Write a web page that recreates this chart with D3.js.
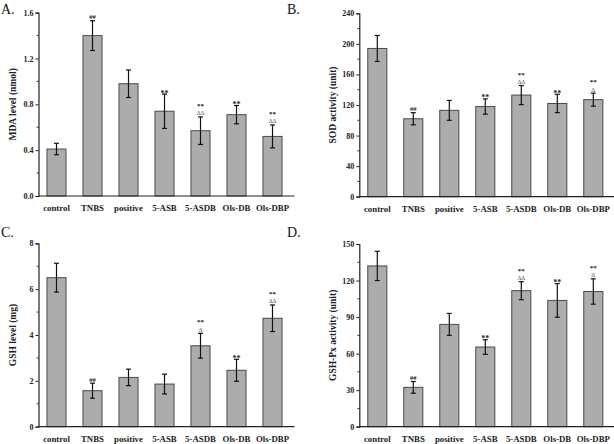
<!DOCTYPE html>
<html><head><meta charset="utf-8">
<script src="https://cdn.jsdelivr.net/npm/d3@7"></script>
<style>
body{margin:0;background:#fff;}
svg{display:block;}
text{font-family:"Liberation Serif","Times New Roman",serif;}
</style></head>
<body><svg id="c" width="614" height="444"></svg>
<script>
const categories = ["control","TNBS","positive","5-ASB","5-ASDB","Ols-DB","Ols-DBP"];
const mdaMean = [0.41,1.40,0.98,0.74,0.57,0.71,0.52];
const mdaErr  = [0.05,0.13,0.12,0.15,0.12,0.08,0.10];
const sodMean = [194,102,113,118,133,122,127];
const sodErr  = [17,8,13,10,12.5,12,8.5];
const gshMean = [6.50,1.57,2.15,1.86,3.53,2.46,4.73];
const gshErr  = [0.63,0.33,0.36,0.43,0.54,0.48,0.58];
const gpxMean = [132,32.3,84,65.4,111.7,103.7,111];
const gpxErr  = [12,4.8,9,6,7.4,13.8,10.4];
const mdaSig = ["","##","","**","**","**","**"];
const mdaDelta = ["","","","","ΔΔ","","ΔΔ"];
const sodSig = ["","##","","**","**","**","**"];
const sodDelta = ["","","","","ΔΔ","","Δ"];
const gshSig = ["","##","","","**","**","**"];
const gshDelta = ["","","","","Δ","","ΔΔ"];
const gpxSig = ["","##","","**","**","**","**"];
const gpxDelta = ["","","","","ΔΔ","","Δ"];
const mdaTicks = [0,0.4,0.8,1.2,1.6];
const sodTicks = [0,40,80,120,160,200,240];
const gshTicks = [0,2,4,6,8];
const gpxTicks = [0,30,60,90,120,150];

const svg = d3.select("#c");

const panels = [
  {letter:"A.", lx:1, ly:14, x0:38.5, y0:196, y1:12.7, max:1.6, ticks:mdaTicks, fmt:d3.format(".1f"), minor:0.2,
   title:"MDA level (nmol)", mean:mdaMean, err:mdaErr, sig:mdaSig, delta:mdaDelta},
  {letter:"B.", lx:287, ly:14, x0:359.3, y0:196.7, y1:13.3, max:240, ticks:sodTicks, fmt:d3.format("d"), minor:20,
   title:"SOD activity (unit)", mean:sodMean, err:sodErr, sig:sodSig, delta:sodDelta},
  {letter:"C.", lx:1, ly:237, x0:38.5, y0:426.7, y1:243.3, max:8, ticks:gshTicks, fmt:d3.format("d"), minor:1,
   title:"GSH level (mg)", mean:gshMean, err:gshErr, sig:gshSig, delta:gshDelta},
  {letter:"D.", lx:287, ly:237, x0:359.3, y0:426.7, y1:244, max:150, ticks:gpxTicks, fmt:d3.format("d"), minor:15,
   title:"GSH-Px activity (unit)", mean:gpxMean, err:gpxErr, sig:gpxSig, delta:gpxDelta}
];

panels.forEach(p => {
  const g = svg.append("g");
  const x = d3.scaleBand().domain(categories).range([p.x0, p.x0 + 252]).paddingInner(0.47).paddingOuter(0.235);
  const y = d3.scaleLinear().domain([0, p.max]).range([p.y0, p.y1]);

  g.append("text").attr("x", p.lx).attr("y", p.ly).attr("font-size", 14).attr("fill", "#111").text(p.letter);

  g.selectAll("rect.bar").data(categories).join("rect")
    .attr("x", d => x(d)).attr("width", x.bandwidth())
    .attr("y", (d,i) => y(p.mean[i])).attr("height", (d,i) => y(0) - y(p.mean[i]))
    .attr("fill", "#acacac").attr("stroke", "#4a4a4a").attr("stroke-width", 1);

  const eb = g.selectAll("g.eb").data(categories).join("g");
  const cxf = d => x(d) + x.bandwidth()/2;
  eb.append("line")
    .attr("x1", cxf).attr("x2", cxf)
    .attr("y1", (d,i) => y(p.mean[i] + p.err[i])).attr("y2", (d,i) => y(p.mean[i] - p.err[i]))
    .attr("stroke", "#111").attr("stroke-width", 1.2);
  eb.append("line")
    .attr("x1", d => cxf(d) - 2.5).attr("x2", d => cxf(d) + 2.5)
    .attr("y1", (d,i) => y(p.mean[i] + p.err[i])).attr("y2", (d,i) => y(p.mean[i] + p.err[i]))
    .attr("stroke", "#111").attr("stroke-width", 1.2);
  eb.append("line")
    .attr("x1", d => cxf(d) - 2.5).attr("x2", d => cxf(d) + 2.5)
    .attr("y1", (d,i) => y(p.mean[i] - p.err[i])).attr("y2", (d,i) => y(p.mean[i] - p.err[i]))
    .attr("stroke", "#111").attr("stroke-width", 1.2);

  categories.forEach((c,i) => {
    const cx = cxf(c);
    const top = y(p.mean[i] + p.err[i]) - 1.5;
    if (p.delta[i]) {
      g.append("text").attr("x", cx).attr("y", top).attr("text-anchor", "middle")
        .attr("font-size", 6).attr("fill", "#444").text(p.delta[i]);
      g.append("text").attr("x", cx).attr("y", top - 7.4).attr("text-anchor", "middle")
        .attr("font-size", 7).attr("font-weight", "bold").attr("fill", "#222").text(p.sig[i]);
    } else if (p.sig[i]) {
      g.append("text").attr("x", cx).attr("y", top + (p.sig[i] === "**" ? 3 : 0)).attr("text-anchor", "middle")
        .attr("font-size", p.sig[i] === "**" ? 8 : 6.5).attr("font-weight", "bold").attr("fill", "#222").text(p.sig[i]);
    }
  });

  const ya = d3.axisLeft(y).tickValues(p.ticks).tickFormat(p.fmt).tickSize(3).tickPadding(2);
  const yg = g.append("g").attr("transform", `translate(${p.x0},0)`).call(ya);
  yg.select(".domain").attr("stroke", "#222").attr("stroke-width", 1.2);
  yg.selectAll(".tick line").attr("stroke", "#222");
  yg.selectAll(".tick text").attr("font-size", 8).attr("font-weight", "bold").attr("fill", "#222")
    .attr("font-family", "'Liberation Serif',serif");
  const minors = d3.range(p.minor, p.max, p.minor * 2);
  g.selectAll("line.minor").data(minors).join("line")
    .attr("x1", p.x0 - 1.8).attr("x2", p.x0).attr("y1", d => y(d)).attr("y2", d => y(d))
    .attr("stroke", "#222").attr("stroke-width", 1);

  g.append("line").attr("x1", p.x0).attr("x2", p.x0 + 256).attr("y1", p.y0).attr("y2", p.y0)
    .attr("stroke", "#222").attr("stroke-width", 1.2);

  g.selectAll("text.cat").data(categories).join("text")
    .attr("x", d => cxf(d)).attr("y", p.y0 + 15)
    .attr("text-anchor", "middle").attr("font-size", 8.8).attr("font-weight", "bold").attr("fill", "#222")
    .text(d => d);

  const my = (p.y0 + p.y1) / 2;
  g.append("text").attr("transform", `translate(${p.x0 - 23},${my}) rotate(-90)`)
    .attr("text-anchor", "middle").attr("font-size", 9.5).attr("font-weight", "bold").attr("fill", "#222")
    .text(p.title);
});
</script>
</body></html>
